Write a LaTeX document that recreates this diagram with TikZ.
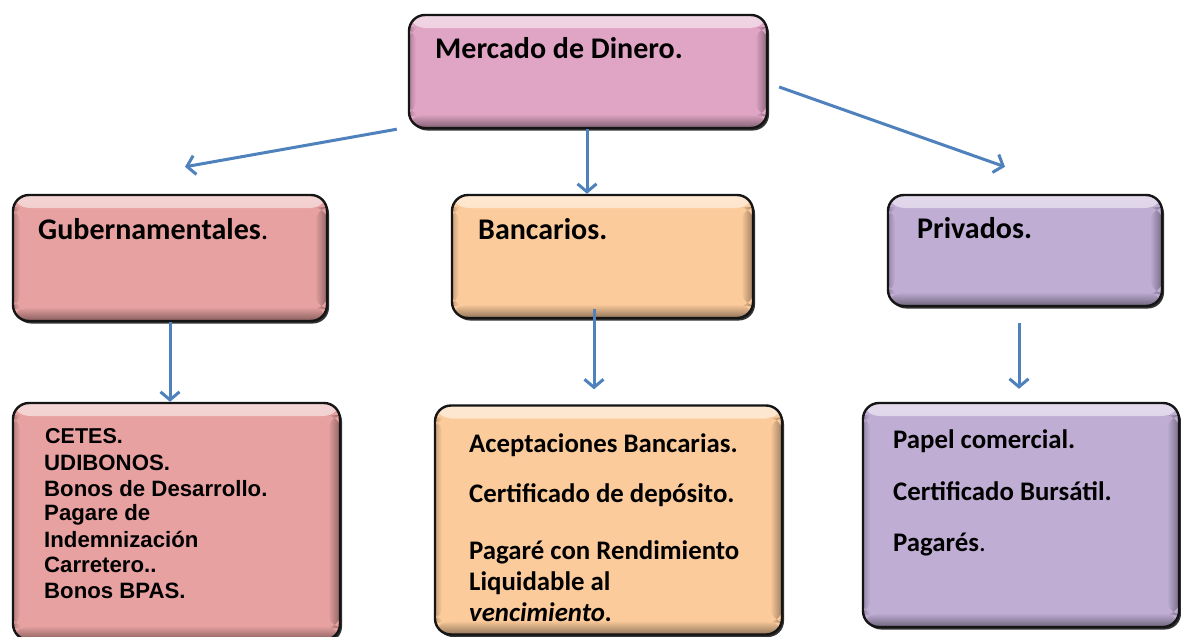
\documentclass[tikz,border=0pt]{standalone}
\usepackage{fontspec}
\setmainfont{Carlito}
\newfontfamily\arialfont{Liberation Sans}
\usetikzlibrary{arrows.meta,calc}
\definecolor{cpink}{HTML}{E0A5C5}
\definecolor{cgub}{HTML}{E6A1A0}
\definecolor{cban}{HTML}{FCCB9B}
\definecolor{cpri}{HTML}{BFADD4}
\definecolor{carrow}{HTML}{4F81BD}
\definecolor{cborder}{HTML}{151515}
\tikzset{
  box/.style={rectangle, rounded corners=16pt, draw=cborder, line width=2.4pt,
    fill=#1, inner sep=0pt,
    path picture={
      \fill[top color=white!55!#1, bottom color=#1]
        ([yshift=1pt]path picture bounding box.north west) rectangle ([yshift=-13pt]path picture bounding box.north east);
      \fill[top color=#1, bottom color=black!45!#1]
        ([yshift=14pt]path picture bounding box.south west) rectangle ([yshift=-1pt]path picture bounding box.south east);
      \fill[left color=#1, right color=black!40!#1]
        ([xshift=-12pt,yshift=-12pt]path picture bounding box.north east) rectangle ([xshift=1pt,yshift=12pt]path picture bounding box.south east);
      \fill[left color=black!25!#1, right color=#1]
        ([xshift=-1pt,yshift=-12pt]path picture bounding box.north west) rectangle ([xshift=7pt,yshift=12pt]path picture bounding box.south west);
    },
    preaction={fill=black!80, transform canvas={xshift=2pt,yshift=-2.5pt}}},
  head/.style={anchor=base west, inner sep=0pt, font=\fontsize{30}{32}\selectfont\bfseries},
  item/.style={anchor=base west, inner sep=0pt, font=\fontsize{26.8}{28}\selectfont\bfseries},
  aitem/.style={anchor=base west, inner sep=0pt, font=\arialfont\fontsize{22.2}{24}\selectfont\bfseries},
  arr/.style={draw=carrow, line width=3pt, -{Straight Barb[length=8pt,width=19pt,line width=3pt]}}
}
\begin{document}
\begin{tikzpicture}[x=1pt,y=-1pt]
\useasboundingbox (0,0) rectangle (1181,637);
\fill[white] (0,0) rectangle (1181,637);

% boxes
\node[box=cpink, minimum width=358pt, minimum height=113pt] (mdin) at (588,71.5) {};
\node[box=cgub, minimum width=314pt, minimum height=126pt] (gub) at (170,258) {};
\node[box=cban, minimum width=301pt, minimum height=123pt] (ban) at (602.5,256.5) {};
\node[box=cpri, minimum width=274pt, minimum height=111pt] (pri) at (1025,250.5) {};
\node[box=cgub, minimum width=327pt, minimum height=237pt] (gubl) at (176.5,521.5) {};
\node[box=cban, minimum width=347pt, minimum height=229pt] (banl) at (608.5,520) {};
\node[box=cpri, minimum width=316pt, minimum height=224pt] (pril) at (1021,515) {};

% headings
\node[head] (tmdin) at (435,58) {Mercado de Dinero.};
\node[head] (tgub) at (38,239) {Gubernamentales\mdseries.};
\node[head] (tban) at (478,239) {Bancarios.};
\node[head] (tpri) at (917,238) {Privados.};

% left list
\node[aitem, font=\arialfont\fontsize{21.5}{23}\selectfont\bfseries] (g1) at (45,443) {CETES.};
\node[aitem] (g2) at (44,470) {UDIBONOS.};
\node[aitem] (g3) at (44,496) {Bonos de Desarrollo.};
\node[aitem] (g4) at (44,520) {Pagare de};
\node[aitem] (g5) at (44,547) {Indemnización};
\node[aitem] (g6) at (44,572) {Carretero..};
\node[aitem] (g7) at (44,598) {Bonos BPAS.};

% middle list
\node[item] (b1) at (469,452) {Aceptaciones Bancarias.};
\node[item] (b2) at (469,502) {Certificado de depósito.};
\node[item] (b3) at (469,559) {Pagaré con Rendimiento};
\node[item] (b4) at (469,590) {Liquidable al};
\node[item] (b5) at (469,621) {\itshape vencimiento.};

% right list
\node[item] (p1) at (893,448) {Papel comercial.};
\node[item] (p2) at (893,500) {Certificado Bursátil.};
\node[item] (p3) at (893,551) {Pagarés\mdseries.};

% arrows
\draw[arr] ([xshift=-11pt]mdin.south west) -- ([xshift=15pt,yshift=27pt]gub.north);
\draw[arr] ([xshift=-1pt]mdin.south) -- ([xshift=-1pt]mdin.south |- ban.north);
\draw[arr] ([xshift=11pt,yshift=-15.5pt]mdin.east) -- ([xshift=-20pt,yshift=27pt]pri.north);
\draw[arr] (gub.south) -- (gub.south |- gubl.north);
\draw[arr] ([xshift=-8.5pt,yshift=10pt]ban.south) -- ([xshift=-14.5pt,yshift=15pt]banl.north);
\draw[arr] ([xshift=-6pt,yshift=-16pt]pri.south) -- ([xshift=-2pt,yshift=13pt]pril.north);
\end{tikzpicture}
\end{document}
